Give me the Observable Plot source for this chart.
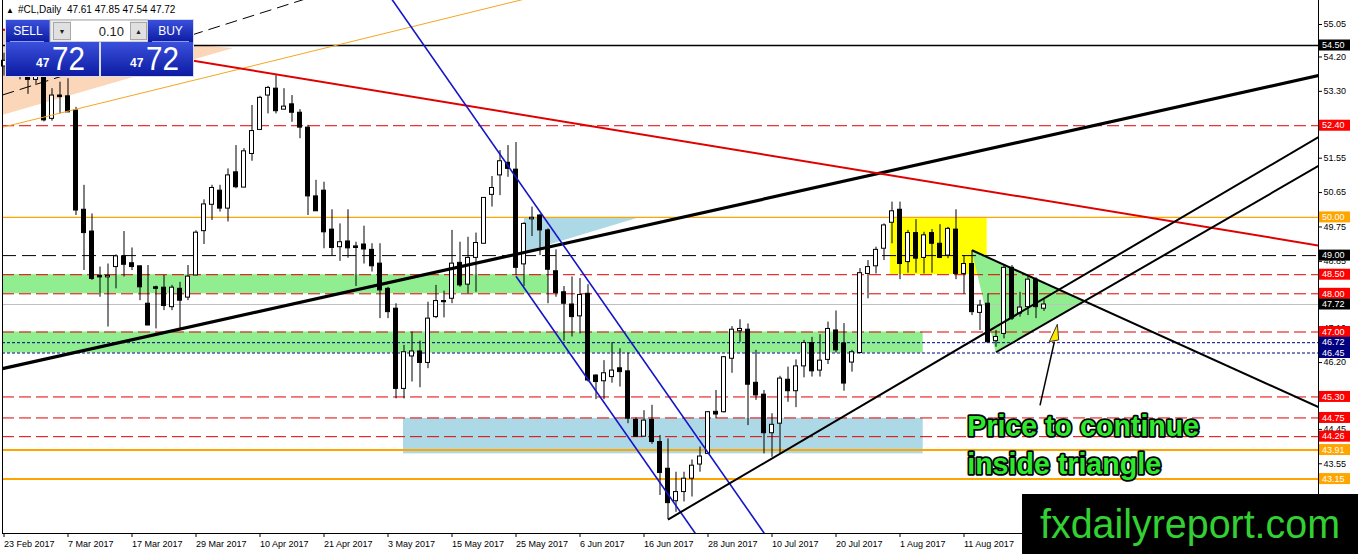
<!DOCTYPE html>
<html><head><meta charset="utf-8">
<script src="https://cdn.jsdelivr.net/npm/d3@7"></script>
<script src="https://cdn.jsdelivr.net/npm/@observablehq/plot@0.6"></script>
<style>
body{margin:0;background:#fff;}
#wrap{position:relative;width:1358px;height:554px;overflow:hidden;background:#fff;}
#wrap svg{position:absolute;left:0;top:0;}
</style></head><body><div id="wrap"></div>
<script>
// ---------- DATA ----------
const symbol = "#CL,Daily";
const dateTickIndex = [0,8,16,24,32,40,48,56,64,72,80,88,96,104,112,120];
const dateTickLabel = ["23 Feb 2017","7 Mar 2017","17 Mar 2017","29 Mar 2017","10 Apr 2017","21 Apr 2017","3 May 2017","15 May 2017","25 May 2017","6 Jun 2017","16 Jun 2017","28 Jun 2017","10 Jul 2017","20 Jul 2017","1 Aug 2017","11 Aug 2017"];
const priceTicks = [55.05,54.20,53.30,51.55,50.65,49.75,48.85,47.10,46.20,44.45,43.55,42.65];

const open  = [53.95,54.10,54.00,53.75,53.60,53.72,52.58,53.19,53.17,52.80,50.20,49.63,48.47,48.43,48.70,48.98,48.80,48.72,47.74,48.17,48.16,47.65,48.13,47.90,48.48,49.64,50.33,50.70,50.23,51.18,50.78,51.66,52.29,53.19,53.37,52.82,52.96,52.74,52.35,50.55,50.70,49.68,49.22,49.37,49.24,49.29,49.15,48.79,48.13,47.61,45.51,46.36,46.49,46.19,47.39,47.81,47.87,48.81,48.24,48.94,49.31,50.59,51.10,51.43,51.25,48.77,49.95,50.05,49.66,48.59,48.04,47.72,47.41,48.00,45.86,45.71,45.82,46.05,45.97,44.70,44.26,44.70,44.12,43.42,42.57,42.81,43.16,43.53,43.81,44.91,44.90,46.30,47.02,47.06,45.67,45.36,44.35,44.60,45.75,45.45,46.10,46.71,45.99,46.27,47.04,46.70,46.20,46.45,48.52,48.72,49.18,49.86,50.20,48.83,49.59,48.94,49.59,49.31,49.00,49.68,48.52,48.78,47.50,47.74,46.76,46.95,48.68,47.48,47.65,48.37,47.61];
const high  = [54.30,54.40,54.25,54.05,53.90,53.95,53.37,53.54,53.63,52.88,50.84,50.09,48.70,48.78,49.02,49.63,49.20,48.72,48.74,48.20,48.48,48.22,48.30,48.74,49.65,50.46,50.84,50.84,51.27,51.88,51.80,52.93,53.17,53.43,53.71,53.37,53.19,52.82,52.41,50.97,50.92,50.20,49.83,50.20,49.35,49.77,49.31,49.31,48.17,47.74,46.65,47.00,46.76,47.78,48.22,48.07,49.66,49.35,49.48,49.59,50.51,51.07,51.75,51.88,51.96,49.86,50.27,50.08,49.70,49.15,48.19,48.44,48.40,48.24,45.88,46.25,46.72,46.56,46.45,44.75,44.94,45.08,44.29,44.20,43.33,43.33,43.65,43.99,44.92,45.47,46.36,47.14,47.32,47.21,46.52,45.47,44.86,45.84,46.08,46.27,46.78,46.86,46.93,47.26,47.55,47.22,46.52,48.66,48.87,49.22,49.83,50.40,50.40,49.66,49.94,49.61,49.68,49.81,49.74,50.20,49.00,49.13,47.83,48.00,47.04,48.74,48.74,48.04,48.48,48.42,47.85];
const low   = [53.70,53.85,53.60,53.22,53.45,52.50,52.52,52.71,52.75,50.05,48.61,48.35,47.91,47.13,48.13,48.44,48.61,47.82,47.17,47.08,47.56,47.56,47.04,47.82,48.48,49.29,49.92,50.14,49.88,50.75,50.78,51.47,52.29,52.71,52.71,52.82,52.49,52.06,50.05,50.16,49.18,49.00,48.85,48.93,48.19,48.78,48.57,47.35,47.35,45.25,45.25,45.69,45.54,46.04,47.35,47.37,47.74,48.17,48.00,48.04,49.31,50.27,50.57,51.05,48.48,48.19,49.50,49.00,47.74,47.91,46.76,46.87,46.95,45.69,45.23,45.23,45.66,45.56,44.60,44.25,44.25,44.06,42.72,42.09,42.28,42.55,42.68,43.33,43.79,44.73,44.88,45.92,46.73,44.55,45.21,43.81,43.72,43.81,45.16,45.02,45.80,45.82,45.82,46.15,46.45,45.45,45.95,46.43,47.87,48.52,48.87,49.31,48.37,48.54,48.54,48.52,48.54,48.92,48.92,48.37,47.99,47.43,47.04,46.71,46.60,46.82,47.30,47.39,47.43,47.35,47.54];
const close = [54.10,54.00,53.75,53.60,53.75,52.54,53.19,53.15,52.75,50.18,49.59,48.39,48.43,48.47,48.98,48.76,48.70,48.17,47.17,48.13,47.68,48.16,47.82,48.45,49.60,50.34,50.77,50.23,51.10,50.79,51.73,52.26,53.13,53.39,52.78,52.90,52.74,52.35,50.55,50.16,49.61,49.20,49.35,49.19,49.20,49.16,48.72,48.09,47.52,45.51,46.47,46.49,46.19,47.35,47.81,47.78,48.79,48.22,48.94,49.33,50.51,50.77,51.47,51.27,48.68,49.83,49.99,49.66,48.63,48.02,47.74,47.39,47.97,45.73,45.69,45.92,45.99,45.95,44.73,44.26,44.68,44.12,43.31,42.52,42.81,43.16,43.50,43.74,44.90,44.84,46.34,47.06,47.08,45.62,45.34,44.35,44.57,45.78,45.45,46.10,46.71,45.97,46.25,47.08,46.52,45.65,46.47,48.54,48.70,49.15,49.79,50.16,48.78,49.59,48.92,49.53,49.31,48.94,49.70,48.52,48.78,47.52,47.69,46.73,46.87,48.68,47.35,47.64,48.37,47.65,47.72];

// horizontal levels and their kind
const levelPrice = [54.50,52.40,50.00,49.00,48.50,48.00,47.72,47.00,46.72,46.45,45.30,44.75,44.26,43.91,43.15];
const levelKind  = ["major","sr","round","pivot","sr","sr","bid","sr","zone","zone","sr","sr","sr","low","low"];

// trend lines: two anchors [bar index, price]
const mainTrend    = [[0,46.05],[164,53.70]];
const redTrend     = [[24,54.088],[164,49.276]];
const orangeTrend  = [[0,52.37],[62,55.557]];
const dashTrend    = [[0,53.217],[30,55.209]];
const channelUpper = [[64,51.05],[86,44.443]];
const channelLower = [[64,48.46],[86,41.853]];
const juneTrend    = [[83,42.09],[164,52.064]];
const triLower     = [[124,46.47],[164,51.31]];
const triUpper     = [[121,49.14],[164,45.063]];

// zones [i1, i2, p1, p2]
const greenZoneHigh = [-0.19,68.06,48.00,48.50];
const greenZoneLow  = [-0.19,114.9,46.45,47.00];
const blueZone      = [49.94,114.9,43.81,44.74];
const yellowZone    = [110.8,122.9,48.50,49.99];
const peachWedge    = [[-0.19,54.92],[28.7,54.42],[-0.19,52.67]];
const blueWedge     = [[65.06,50.00],[79.56,50.00],[65.06,49.08]];

// annotation
const noteLines = ["Price to continue","inside triangle"];
const noteAt    = [[120.4,44.516],[120.4,43.52]];
const arrowShaft = [[129.5,45.08],[131.3,46.75]];
const arrowHead  = [[131.73,47.19],[130.73,46.735],[131.9,46.78]];
const watermark = "fxdailyreport.com";

// ---------- CHART ----------
const W = 1358, H = 554;
const xDomain = [-0.1875, 164.3125];
const yDomain = [41.7251, 55.6783];
const FONT = "Liberation Sans, Arial, sans-serif";
const idx = d3.range(open.length);

function lineAt(anchors, i) {
  const [[a,p],[b,q]] = anchors;
  return p + (q - p) * (i - a) / (b - a);
}
function seg(anchors, fromStart) {
  const i1 = fromStart ? anchors[0][0] : xDomain[0];
  const i2 = xDomain[1];
  return {x1: i1, y1: lineAt(anchors, i1), x2: i2, y2: lineAt(anchors, i2)};
}
function intersect(A, B) {
  const sa = (A[1][1]-A[0][1])/(A[1][0]-A[0][0]);
  const sb = (B[1][1]-B[0][1])/(B[1][0]-B[0][0]);
  const i = (B[0][1] - A[0][1] + sa*A[0][0] - sb*B[0][0]) / (sa - sb);
  return [i, lineAt(A, i)];
}
const triApex = intersect(triUpper, triLower);
const greenTri = [triUpper[0], triApex, triLower[0]];

function polygon(points, fill, stroke) {
  return (index, scales) => {
    const p = d3.create("svg:path")
      .attr("d", "M" + points.map(([i, v]) => `${scales.x(i)},${scales.y(v)}`).join("L") + "Z")
      .attr("fill", fill);
    if (stroke) p.attr("stroke", stroke).attr("stroke-width", 1);
    return p.node();
  };
}
function zone(z, fill) {
  return Plot.rect([z], {x1: d => d[0], x2: d => d[1], y1: d => d[2], y2: d => d[3], fill, clip: true});
}
function trend(anchors, fromStart, stroke, strokeWidth, dash) {
  return Plot.link([seg(anchors, fromStart)], {x1: "x1", y1: "y1", x2: "x2", y2: "y2", stroke, strokeWidth, strokeDasharray: dash, clip: true});
}
const levelStyle = {
  major: {stroke: "#000", width: 1.5, dash: null, bg: "#000"},
  sr:    {stroke: "#e00000", width: 1, dash: "12,5", bg: "#ff0000"},
  round: {stroke: "#ffa500", width: 1.2, dash: null, bg: "#ffa500"},
  pivot: {stroke: "#000", width: 1, dash: "14,6", bg: "#000"},
  bid:   {stroke: "#c0c0c0", width: 1, dash: null, bg: "#000"},
  zone:  {stroke: "#000080", width: 1, dash: "3,2", bg: "#000080"},
  low:   {stroke: "#ffa500", width: 2, dash: null, bg: "#ffa500"}
};
const levelMarks = Object.keys(levelStyle).map(k => {
  const s = levelStyle[k];
  const vals = levelPrice.filter((p, j) => levelKind[j] === k);
  return Plot.ruleY(vals, {stroke: s.stroke, strokeWidth: s.width, strokeDasharray: s.dash});
});

const levelLabels = (index, scales, values, dim) => {
  const g = d3.create("svg:g").attr("text-anchor", "start");
  const x0 = dim.width - dim.marginRight + 1;
  levelPrice.forEach((p, j) => {
    const y = scales.y(p);
    g.append("rect").attr("x", x0).attr("y", y - 5.5).attr("width", 31).attr("height", 11).attr("fill", levelStyle[levelKind[j]].bg);
    g.append("text").attr("x", x0 + 3).attr("y", y).attr("dy", "0.36em").attr("fill", "#fff")
      .attr("text-anchor", "start").attr("font-size", 9).attr("font-family", FONT).text(p.toFixed(2));
  });
  return g.node();
};

const up = idx.filter(i => close[i] >= open[i]);
const dn = idx.filter(i => close[i] < open[i]);
const HW = 0.25;

const chart = Plot.plot({
  width: W, height: H,
  marginLeft: 2, marginRight: 40, marginTop: 0, marginBottom: 21,
  x: {type: "linear", domain: xDomain, axis: null},
  y: {type: "linear", domain: yDomain, axis: null},
  style: {fontFamily: FONT, background: "#fff", color: "#000"},
  marks: [
    polygon(peachWedge, "#fbd6b8"),
    zone(greenZoneHigh, "#90ee90"),
    zone(greenZoneLow, "#90ee90"),
    zone(blueZone, "#add8e6"),
    zone(yellowZone, "#ffff00"),
    polygon(blueWedge, "#add8e6"),
    polygon(greenTri, "#90ee90"),
    ...levelMarks,
    Plot.ruleX(idx, {x: i => i, y1: i => low[i], y2: i => high[i], stroke: "#000", strokeWidth: 1}),
    Plot.rect(up, {x1: i => i - HW, x2: i => i + HW, y1: i => open[i], y2: i => close[i], fill: "#fff", stroke: "#000", strokeWidth: 1}),
    Plot.rect(dn, {x1: i => i - HW, x2: i => i + HW, y1: i => open[i], y2: i => close[i], fill: "#000", stroke: "#000", strokeWidth: 1}),
    trend(orangeTrend, false, "#f5a623", 1),
    trend(dashTrend, false, "#000", 1, "12,6"),
    trend(mainTrend, false, "#000", 3.2),
    trend(redTrend, false, "#e00000", 2),
    trend(channelUpper, false, "#1414c8", 1.6),
    trend(channelLower, true, "#1414c8", 1.6),
    trend(juneTrend, true, "#000", 2),
    trend(triLower, true, "#000", 2),
    trend(triUpper, true, "#000", 2),
    Plot.link([0], {x1: () => arrowShaft[0][0], y1: () => arrowShaft[0][1], x2: () => arrowShaft[1][0], y2: () => arrowShaft[1][1], stroke: "#000", strokeWidth: 1.5}),
    polygon(arrowHead, "#ffe800", "#333"),
    Plot.text(noteLines, {x: (d, j) => noteAt[j][0], y: (d, j) => noteAt[j][1], text: d => d, textAnchor: "start", lineAnchor: "middle",
      fontSize: 28.6, fontWeight: "bold", fontFamily: FONT, fill: "#000", stroke: "#000", strokeWidth: 3.5, strokeLinejoin: "round"}),
    Plot.text(noteLines, {x: (d, j) => noteAt[j][0], y: (d, j) => noteAt[j][1], text: d => d, textAnchor: "start", lineAnchor: "middle",
      fontSize: 28.6, fontWeight: "bold", fontFamily: FONT, fill: "#2ee82e"}),
    Plot.ruleX([xDomain[0], xDomain[1]], {stroke: "#000", strokeWidth: 1}),
    Plot.ruleY([yDomain[0]], {stroke: "#000", strokeWidth: 1}),
    Plot.axisX({ticks: dateTickIndex, tickFormat: i => dateTickLabel[dateTickIndex.indexOf(i)], tickSize: 4, tickPadding: 3,
      textAnchor: "start", fontSize: 9, label: null, anchor: "bottom"}),
    Plot.axisY({ticks: priceTicks, tickFormat: d => d.toFixed(2), tickSize: 3, tickPadding: 2, fontSize: 9, label: null, anchor: "right"}),
    levelLabels
  ]
});
document.getElementById("wrap").appendChild(chart);

// ---------- OVERLAY: header, trade panel, watermark ----------
const last = open.length - 1;
const priceStr = close[last].toFixed(2).split(".");
const ov = d3.select("#wrap").append("svg").attr("width", W).attr("height", H)
  .style("font-family", FONT).style("pointer-events", "none");
const defs = ov.append("defs");
const gr = defs.append("linearGradient").attr("id", "bl").attr("x1", 0).attr("y1", 0).attr("x2", 0).attr("y2", 1);
gr.append("stop").attr("offset", 0).attr("stop-color", "#3a50dc");
gr.append("stop").attr("offset", 1).attr("stop-color", "#0c1ba2");

ov.append("text").attr("x", 6).attr("y", 13).attr("font-size", 8).text("▲");
ov.append("text").attr("x", 18).attr("y", 13).attr("font-size", 10)
  .text(`${symbol}  ${open[last].toFixed(2)} ${high[last].toFixed(2)} ${low[last].toFixed(2)} ${close[last].toFixed(2)}`)
  .attr("xml:space", "preserve").style("white-space", "pre");

ov.append("rect").attr("x", 5).attr("y", 19).attr("width", 189).attr("height", 58).attr("fill", "#d8dcec");
ov.append("rect").attr("x", 6).attr("y", 20).attr("width", 44).attr("height", 22).attr("fill", "url(#bl)");
ov.append("text").attr("x", 28).attr("y", 35).attr("text-anchor", "middle").attr("fill", "#fff").attr("font-size", 12).text("SELL");
ov.append("line").attr("x1", 10).attr("x2", 44).attr("y1", 41.5).attr("y2", 41.5).attr("stroke", "#8d9cf0");
ov.append("rect").attr("x", 50).attr("y", 20).attr("width", 98).attr("height", 22).attr("fill", "#ececec").attr("stroke", "#b4b4b4");
ov.append("rect").attr("x", 53.5).attr("y", 22.5).attr("width", 17).attr("height", 17).attr("fill", "#e0e0e0").attr("stroke", "#a8a8a8");
ov.append("text").attr("x", 62).attr("y", 34).attr("text-anchor", "middle").attr("font-size", 7).attr("fill", "#222").text("▼");
ov.append("rect").attr("x", 71).attr("y", 21).attr("width", 59).attr("height", 20).attr("fill", "#fff");
ov.append("text").attr("x", 124).attr("y", 36).attr("text-anchor", "end").attr("font-size", 13).attr("fill", "#222").text("0.10");
ov.append("rect").attr("x", 130.5).attr("y", 22.5).attr("width", 16).attr("height", 17).attr("fill", "#e0e0e0").attr("stroke", "#a8a8a8");
ov.append("text").attr("x", 138.5).attr("y", 34).attr("text-anchor", "middle").attr("font-size", 7).attr("fill", "#222").text("▲");
ov.append("rect").attr("x", 148).attr("y", 20).attr("width", 45).attr("height", 22).attr("fill", "url(#bl)");
ov.append("text").attr("x", 170.5).attr("y", 35).attr("text-anchor", "middle").attr("fill", "#fff").attr("font-size", 12).text("BUY");
ov.append("line").attr("x1", 152).attr("x2", 189).attr("y1", 41.5).attr("y2", 41.5).attr("stroke", "#8d9cf0");
ov.append("rect").attr("x", 6).attr("y", 42).attr("width", 93).attr("height", 34).attr("fill", "url(#bl)");
ov.append("rect").attr("x", 101).attr("y", 42).attr("width", 92).attr("height", 34).attr("fill", "url(#bl)");
[[36, 52], [130, 146]].forEach(([sx, bx]) => {
  ov.append("text").attr("x", sx).attr("y", 67).attr("font-size", 12).attr("font-weight", "bold").attr("fill", "#fff").text(priceStr[0]);
  ov.append("text").attr("x", bx).attr("y", 70).attr("font-size", 34).attr("fill", "#fff")
    .attr("textLength", 33).attr("lengthAdjust", "spacingAndGlyphs").text(priceStr[1]);
});

ov.append("rect").attr("x", 1022).attr("y", 494).attr("width", 336).attr("height", 60).attr("fill", "#000");
ov.append("text").attr("x", 1040).attr("y", 538).attr("font-size", 40).attr("fill", "#33d033")
  .attr("textLength", 300).attr("lengthAdjust", "spacingAndGlyphs").text(watermark);
</script>
</body></html>
